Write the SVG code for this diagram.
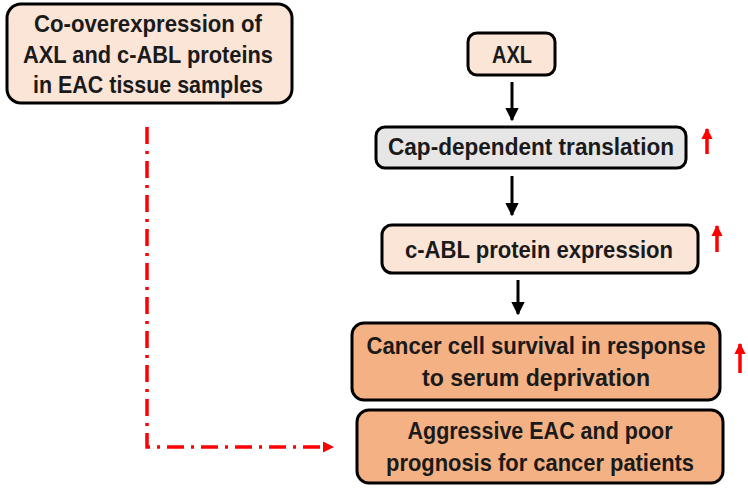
<svg xmlns="http://www.w3.org/2000/svg" width="748" height="492" viewBox="0 0 748 492">
<style>
.box{stroke:#000;stroke-width:3}
.peach{fill:#FBE5D6}
.grey{fill:#E7E6E6}
.orange{fill:#F4B183}
text{font-family:"Liberation Sans",Arial,sans-serif;font-weight:bold;font-size:24px;fill:#1a1a1a;text-anchor:middle}
.blk{stroke:#000;stroke-width:3;fill:none}
.red{stroke:#FF0000;stroke-width:3.5;fill:none}
</style>
<defs>
<marker id="ah" viewBox="0 0 10 10" refX="9" refY="5" markerWidth="4.5" markerHeight="4.5" orient="auto" markerUnits="strokeWidth"><path d="M0,0 L10,5 L0,10 Z" fill="#000"/></marker>
<marker id="rh" viewBox="0 0 10 10" refX="9" refY="5" markerWidth="3.2" markerHeight="3.2" orient="auto" markerUnits="strokeWidth"><path d="M0,0 L10,5 L0,10 Z" fill="#FF0000"/></marker>
</defs>
<g id="co-overexpression">
<rect class="box peach" x="7" y="4" width="285" height="99" rx="14"/>
<text x="148" y="32" textLength="228" lengthAdjust="spacingAndGlyphs">Co-overexpression of</text>
<text x="148" y="63" textLength="250" lengthAdjust="spacingAndGlyphs">AXL and c-ABL proteins</text>
<text x="148" y="93" textLength="230" lengthAdjust="spacingAndGlyphs">in EAC tissue samples</text>
</g>
<g id="axl">
<rect class="box peach" x="468" y="33" width="87" height="42" rx="9"/>
<text x="512" y="63" textLength="40" lengthAdjust="spacingAndGlyphs">AXL</text>
</g>
<g id="cap">
<rect class="box grey" x="376" y="127" width="310" height="41" rx="9"/>
<text x="531" y="155" textLength="286" lengthAdjust="spacingAndGlyphs">Cap-dependent translation</text>
</g>
<g id="cabl">
<rect class="box peach" x="382" y="225" width="316" height="48" rx="10"/>
<text x="539" y="258" textLength="268" lengthAdjust="spacingAndGlyphs">c-ABL protein expression</text>
</g>
<g id="survival">
<rect class="box orange" x="352" y="323" width="368" height="77" rx="12"/>
<text x="536" y="354" textLength="339" lengthAdjust="spacingAndGlyphs">Cancer cell survival in response</text>
<text x="536" y="386" textLength="228" lengthAdjust="spacingAndGlyphs">to serum deprivation</text>
</g>
<g id="aggressive">
<rect class="box orange" x="357" y="410" width="366" height="73" rx="12"/>
<text x="540" y="439" textLength="265" lengthAdjust="spacingAndGlyphs">Aggressive EAC and poor</text>
<text x="540" y="471" textLength="308" lengthAdjust="spacingAndGlyphs">prognosis for cancer patients</text>
</g>
<g id="connectors">
<line class="blk" x1="512" y1="82" x2="512" y2="120" marker-end="url(#ah)"/>
<line class="blk" x1="512" y1="176" x2="512" y2="215" marker-end="url(#ah)"/>
<line class="blk" x1="518" y1="280" x2="518" y2="314" marker-end="url(#ah)"/>
<path class="red" d="M147,127 L147,447 L333,447" stroke-dasharray="17,7,3,7" marker-end="url(#rh)"/>
<line class="red" x1="707" y1="154" x2="707" y2="129" marker-end="url(#rh)"/>
<line class="red" x1="717" y1="252" x2="717" y2="226" marker-end="url(#rh)"/>
<line class="red" x1="740" y1="373" x2="740" y2="344" marker-end="url(#rh)"/>
</g>
</svg>
